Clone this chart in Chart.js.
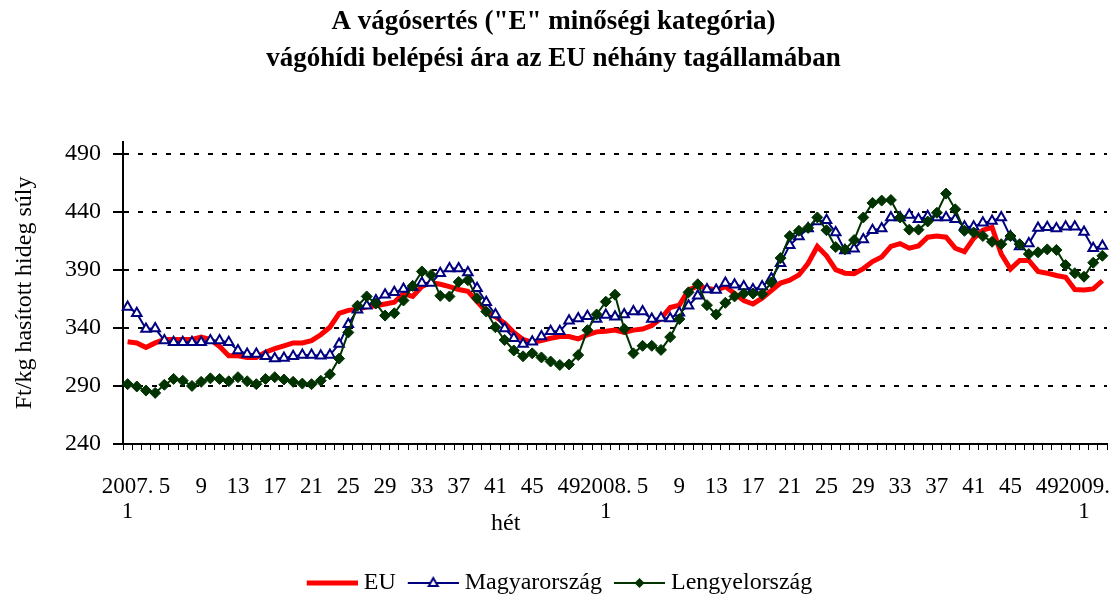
<!DOCTYPE html>
<html>
<head>
<meta charset="utf-8">
<script src="https://cdn.jsdelivr.net/npm/chart.js@4.4.0/dist/chart.umd.min.js"></script>
<style>
  html, body { margin: 0; padding: 0; background: #fff; }
</style>
</head>
<body>
<canvas id="priceChart" width="1115" height="598"></canvas>
<script>
const FONT = '"Liberation Serif", "Times New Roman", serif';

// weeks 2007.1 .. 2009.3
const yearLabels = ["2007.", "2008.", "2009."];
const weekNumbers = [
  1, 2, 3, 4, 5, 6, 7, 8, 9, 10, 11, 12, 13, 14, 15, 16, 17, 18, 19, 20, 21, 22, 23, 24, 25, 26,
  27, 28, 29, 30, 31, 32, 33, 34, 35, 36, 37, 38, 39, 40, 41, 42, 43, 44, 45, 46, 47, 48, 49, 50, 51, 52,
  1, 2, 3, 4, 5, 6, 7, 8, 9, 10, 11, 12, 13, 14, 15, 16, 17, 18, 19, 20, 21, 22, 23, 24, 25, 26,
  27, 28, 29, 30, 31, 32, 33, 34, 35, 36, 37, 38, 39, 40, 41, 42, 43, 44, 45, 46, 47, 48, 49, 50, 51, 52,
  1, 2, 3
];

const euPrices = [
  328, 327, 323, 327, 330, 330, 330, 330, 332, 330, 324, 316, 316, 314.5, 314.5, 319, 322, 324.5, 327, 327,
  329, 334, 340.5, 352.5, 355, 356, 358, 359, 360.5, 362, 369.5, 367, 375.5, 379, 377.5, 375.5, 373, 371.5, 362.5, 354,
  349.5, 344, 336, 330, 327.5, 329, 331, 332.5, 332.5, 330.5, 334, 336.5,
  337, 338, 336, 338, 339, 342, 348, 357.5, 359.5, 372.5, 376, 374, 372.5, 375.5, 369.5, 363.5, 360.5, 365.5,
  372, 378.5, 381, 385.5, 395.5, 410, 402, 390, 387, 386.5, 391, 397, 401, 410, 412.5, 408.5, 410.5, 418,
  419, 418, 408.5, 405.5, 417, 424, 426.5, 403.5, 390.5, 398, 398, 388.5, 387, 385, 383.5, 373,
  372.5, 373.5, 380.5
];

const huPrices = [
  358, 352.5, 339, 339.5, 329, 327.5, 327.5, 327.5, 327.5, 329, 329, 327.5, 320.5, 317.5, 317.5, 315.5, 313.5, 314, 315.5, 316.5,
  316.5, 316, 316.5, 326, 343, 355.5, 359, 363.5, 368.5, 370.5, 373.5, 375, 378.5, 378.5, 387, 391, 391, 387.5, 374, 362,
  351.5, 339.5, 331, 326, 328, 332.5, 337, 337, 346, 348, 350, 347.5,
  351, 349.5, 351.5, 354, 354, 347.5, 348.5, 348, 353, 359, 367.5, 373, 372.5, 378.5, 377, 375.5, 373, 375.5,
  382.5, 395.5, 411, 418.5, 425.5, 431.5, 432.5, 422, 406.5, 408, 416, 424, 425.5, 435, 435, 437, 433.5, 436,
  435, 435, 433.5, 427, 427, 430.5, 432, 435, 418.5, 410, 412.5, 426, 426.5, 425.5, 427, 427,
  422.5, 408.5, 410.5
];

const plPrices = [
  291.5, 289.5, 286, 284, 291, 296, 294.5, 290, 293.5, 296.5, 296, 294, 297.5, 294, 291.5, 296, 297.5, 295.5, 293.5, 292,
  291.5, 294.5, 300, 313.5, 336, 359, 367, 361, 350.5, 352.5, 363.5, 376, 388.5, 385.5, 367.5, 367, 379.5, 381, 365.5, 354,
  340.5, 329.5, 320.5, 315.5, 318, 314.5, 311, 308, 308.5, 316.5, 338, 351.5,
  362.5, 368.5, 339, 318, 324.5, 324.5, 321, 332, 347.5, 370.5, 377.5, 359.5, 351.5, 361.5, 367, 369.5, 369.5, 369,
  379, 400, 419, 423.5, 426, 435, 424, 409.5, 407.5, 415.5, 435, 447.5, 449.5, 450, 435, 424.5, 424.5, 431.5,
  439, 455.5, 442, 423.5, 422, 419, 414, 412, 419, 412, 403.5, 405, 407.5, 407, 394, 387,
  384, 396, 402
];

const yTicks = [240, 290, 340, 390, 440, 490];

// category labels: first week of a year gets the year on top
let yearIdx = -1;
const labels = weekNumbers.map(w => {
  if (w === 1) {
    yearIdx++;
    return [yearLabels[yearIdx], "1"];
  }
  return String(w);
});

function legendIcon(ds) {
  const c = document.createElement("canvas");
  c.width = 69;
  c.height = 16;
  const g = c.getContext("2d");
  g.strokeStyle = ds.borderColor;
  g.lineWidth = ds.borderWidth;
  g.beginPath();
  g.moveTo(18, 8);
  g.lineTo(69, 8);
  g.stroke();
  const mx = 43.5, my = 8;
  if (ds.pointStyle === "triangle") {
    g.fillStyle = "#fff";
    g.lineWidth = 2;
    g.beginPath();
    g.moveTo(mx, my - 5);
    g.lineTo(mx + 4.5, my + 3);
    g.lineTo(mx - 4.5, my + 3);
    g.closePath();
    g.fill();
    g.stroke();
  } else if (ds.pointStyle === "rectRot") {
    g.fillStyle = ds.borderColor;
    g.beginPath();
    g.moveTo(mx, my - 5);
    g.lineTo(mx + 5, my);
    g.lineTo(mx, my + 5);
    g.lineTo(mx - 5, my);
    g.closePath();
    g.fill();
  }
  return c;
}

const hetLabel = {
  id: "hetLabel",
  afterDraw(chart) {
    const { ctx, chartArea } = chart;
    ctx.save();
    ctx.font = "24px " + FONT;
    ctx.fillStyle = "#000";
    ctx.textAlign = "center";
    ctx.textBaseline = "middle";
    ctx.fillText("hét", chartArea.left + (chartArea.right - chartArea.left) * 0.389, chartArea.bottom + 80);
    ctx.restore();
  }
};

new Chart(document.getElementById("priceChart"), {
  type: "line",
  data: {
    labels: labels,
    datasets: [
      {
        label: "EU",
        data: euPrices,
        borderColor: "#ff0000",
        backgroundColor: "#ff0000",
        borderWidth: 5,
        pointRadius: 0,
        pointHoverRadius: 0,
        tension: 0,
        order: 3
      },
      {
        label: "Magyarország",
        data: huPrices,
        borderColor: "#000080",
        backgroundColor: "#ffffff",
        borderWidth: 2,
        pointStyle: "triangle",
        pointRadius: 5.5,
        pointBorderWidth: 2,
        pointBackgroundColor: "#ffffff",
        pointBorderColor: "#000080",
        tension: 0,
        order: 2
      },
      {
        label: "Lengyelország",
        data: plPrices,
        borderColor: "#003300",
        backgroundColor: "#003300",
        borderWidth: 2,
        pointStyle: "rectRot",
        pointRadius: 5.5,
        pointBorderWidth: 1,
        pointBackgroundColor: "#003300",
        pointBorderColor: "#003300",
        tension: 0,
        order: 1
      }
    ]
  },
  options: {
    responsive: false,
    animation: false,
    devicePixelRatio: 1,
    layout: { padding: { left: 0, right: 8, top: 0, bottom: 3 } },
    plugins: {
      title: {
        display: true,
        text: ['A vágósertés ("E" minőségi kategória)', "vágóhídi belépési ára az EU néhány tagállamában"],
        color: "#000",
        font: { family: FONT, size: 27, weight: "bold", lineHeight: 1.35 },
        padding: { top: 4, bottom: 65 }
      },
      legend: {
        position: "bottom",
        maxHeight: 24,
        labels: {
          usePointStyle: true,
          pointStyleWidth: 57,
          padding: 0,
          color: "#000",
          font: { family: FONT, size: 24 },
          generateLabels: chart => chart.data.datasets.map((ds, i) => ({
            text: ds.label,
            pointStyle: legendIcon(ds),
            fillStyle: ds.borderColor,
            strokeStyle: ds.borderColor,
            lineWidth: 0,
            hidden: false,
            datasetIndex: i
          }))
        }
      },
      tooltip: { enabled: false }
    },
    scales: {
      x: {
        type: "category",
        offset: true,
        grid: {
          offset: true,
          drawOnChartArea: false,
          drawTicks: true,
          tickLength: 6,
          color: "#000",
          lineWidth: 1
        },
        border: { color: "#000", width: 2 },
        ticks: {
          autoSkip: false,
          maxRotation: 0,
          minRotation: 0,
          padding: 24,
          color: "#000",
          font: { family: FONT, size: 23, lineHeight: 1.1 },
          callback: function (val, idx) {
            return idx % 4 === 0 ? this.getLabelForValue(val) : "";
          }
        },
        afterFit: s => {
          s.height = 127;
          s.paddingRight = 0;
        }
      },
      y: {
        min: 240,
        max: 500,
        afterBuildTicks: s => { s.ticks = yTicks.map(v => ({ value: v })); },
        grid: {
          color: "#000",
          lineWidth: 2,
          drawTicks: true,
          tickLength: 10,
          tickWidth: 2,
          tickBorderDash: []
        },
        border: { display: true, color: "#000", width: 2, dash: [5, 9] },
        ticks: {
          padding: 12,
          color: "#000",
          font: { family: FONT, size: 24 }
        },
        title: {
          display: true,
          text: "Ft/kg hasított hideg súly",
          color: "#000",
          font: { family: FONT, size: 24 },
          padding: { top: 10, bottom: 0 }
        },
        afterFit: s => { s.width = 123; }
      }
    }
  },
  plugins: [hetLabel]
});
</script>
</body>
</html>
